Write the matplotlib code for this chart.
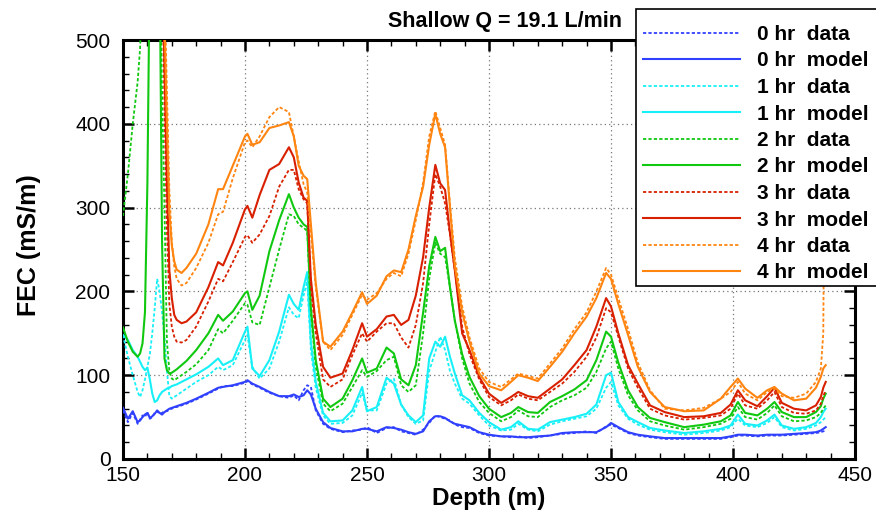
import matplotlib
matplotlib.use("Agg")
import matplotlib.pyplot as plt
from matplotlib.lines import Line2D
from matplotlib.patches import Rectangle
from matplotlib.ticker import MultipleLocator

plt.rcParams['font.family'] = ['Liberation Sans', 'DejaVu Sans']

# ---------------- data ----------------
depth = [
    150, 152, 154, 156, 157, 158, 159, 160, 161, 162,
    163, 164, 165, 166, 167, 168, 169, 170, 171, 172,
    174, 176, 180, 185, 189, 191, 195, 200, 201, 203,
    206, 210, 214, 218, 220, 222, 224, 225.5, 227, 229,
    232, 235, 240, 244, 248, 250, 254, 258, 261, 264,
    267, 270, 273, 275.5, 278, 280, 282, 284, 286, 289,
    292, 296, 300, 305, 309, 312, 316, 320, 325, 330,
    335, 340, 344, 348, 350, 353, 357, 361, 366, 372,
    380, 388, 395, 399, 402, 405, 410, 414, 417, 420,
    425, 430, 434, 436, 437, 438]

fec_0hr_data = [
    58, 44, 55, 42, 47, 52, 50, 56, 48, 50,
    55, 57, 54, 55, 57, 57, 59, 60, 62, 62,
    64, 66, 71, 78, 84, 87, 87, 91, 93, 89,
    85, 79, 75, 73, 76, 70, 82, 88, 86, 58,
    42, 36, 32, 34, 35, 38, 31, 37, 38, 33,
    31, 29, 35, 43, 52, 50, 48, 46, 41, 38,
    37, 31, 28, 27, 26, 27, 25, 26, 28, 30,
    31, 33, 31, 39, 41, 37, 31, 28, 26, 24,
    24, 24, 24, 26, 28, 28, 27, 28, 28, 28,
    29, 30, 31, 32, 33, 34]

fec_0hr_model = [
    61, 48, 57, 44, 46, 50, 53, 55, 49, 51,
    54, 58, 55, 53, 56, 58, 60, 61, 62, 63,
    65, 67, 72, 79, 85, 86, 88, 92, 94, 90,
    86, 80, 75, 75, 77, 74, 76, 82, 77, 60,
    44, 37, 33, 33, 36, 36, 33, 38, 37, 35,
    32, 30, 33, 45, 51, 51, 49, 45, 42, 40,
    38, 32, 29, 27, 27, 26, 26, 27, 28, 31,
    32, 32, 32, 38, 43, 38, 32, 29, 27, 25,
    25, 25, 25, 27, 29, 29, 28, 29, 29, 29,
    30, 31, 32, 34, 36, 38]

fec_1hr_data = [
    148, 122, 100, 80, 74, 82, 95, 110, 125, 150,
    180, 215, 200, 175, 145, 105, 75, 72, 74, 76,
    80, 84, 92, 100, 110, 106, 112, 142, 148, 110,
    96, 108, 140, 181, 172, 168, 195, 212, 130, 85,
    52, 42, 43, 52, 79, 58, 58, 90, 96, 65,
    50, 42, 46, 105, 128, 146, 130, 105, 90, 72,
    66, 52, 40, 34, 35, 42, 35, 33, 41, 45,
    48, 51, 60, 85, 92, 64, 48, 41, 35, 32,
    29, 31, 34, 38, 48, 40, 38, 43, 50, 38,
    34, 36, 40, 44, 47, 50]

fec_1hr_model = [
    148, 142, 130, 122, 116, 110, 106, 109, 95, 78,
    68, 70, 76, 80, 82, 84, 85, 87, 88, 89,
    92, 95, 101, 110, 120, 112, 118, 152, 158, 108,
    99, 118, 152, 196, 185, 178, 205, 223, 140, 92,
    55, 45, 46, 58, 86, 57, 62, 97, 90, 65,
    52, 44, 52, 120, 140, 134, 146, 122, 102, 76,
    70, 55, 44, 35, 38, 45, 36, 35, 44, 47,
    50, 54, 65, 100, 103, 68, 50, 44, 37, 34,
    31, 33, 36, 40, 53, 42, 40, 46, 53, 40,
    36, 38, 43, 50, 56, 60]

fec_2hr_data = [
    290, 340, 400, 450, 490, 560, 600, 600, 600, 600,
    600, 600, 600, 440, 300, 140, 105, 96, 94, 96,
    100, 104, 113, 130, 155, 150, 165, 186, 184, 163,
    160, 205, 250, 292, 290, 280, 276, 272, 175, 110,
    66, 57, 66, 86, 106, 98, 105, 118, 122, 88,
    80, 88, 150, 215, 258, 245, 241, 205, 165, 120,
    90, 68, 55, 45, 50, 58, 51, 50, 62, 70,
    76, 85, 104, 132, 140, 108, 76, 58, 45, 40,
    35, 38, 42, 48, 62, 50, 47, 55, 64, 51,
    45, 46, 50, 55, 60, 64]

fec_2hr_model = [
    157, 140, 128, 122, 126, 138, 175, 330, 600, 600,
    600, 600, 600, 260, 120, 106, 102, 103, 105, 107,
    112, 117, 130, 150, 172, 165, 176, 198, 200, 178,
    195, 248, 285, 316, 300, 288, 280, 277, 180, 118,
    72, 62, 72, 94, 120, 103, 108, 133, 126, 95,
    88, 112, 175, 230, 265, 248, 252, 205, 165, 125,
    98, 75, 60, 50, 55, 62, 56, 55, 68, 75,
    83, 94, 118, 152, 146, 115, 82, 62, 49, 44,
    38, 41, 45, 52, 68, 55, 52, 60, 68, 56,
    50, 50, 56, 63, 72, 78]

fec_3hr_data = [
    600, 600, 600, 600, 600, 600, 600, 600, 600, 600,
    600, 600, 600, 600, 420, 275, 185, 158, 146, 140,
    139, 142, 158, 188, 215, 212, 235, 265, 267, 258,
    268, 290, 325, 345, 345, 322, 310, 305, 205, 150,
    95, 86, 95, 124, 150, 140, 152, 162, 162, 145,
    133, 160, 210, 280, 340, 325, 305, 268, 225, 158,
    125, 95, 74, 64, 70, 77, 72, 70, 80, 90,
    104, 122, 145, 180, 175, 146, 108, 85, 60, 52,
    47, 49, 52, 60, 78, 64, 60, 70, 80, 62,
    55, 54, 58, 66, 75, 82]

fec_3hr_model = [
    600, 600, 600, 600, 600, 600, 600, 600, 600, 600,
    600, 600, 600, 600, 470, 330, 225, 192, 172, 166,
    162, 164, 175, 205, 235, 231, 258, 298, 302, 288,
    315, 345, 352, 372, 360, 330, 312, 308, 215, 160,
    110, 97, 102, 130, 162, 146, 155, 170, 172, 160,
    166, 195, 241, 300, 351, 329, 321, 270, 225, 150,
    130, 98, 78, 67, 74, 80, 75, 73, 84, 95,
    112, 130, 158, 192, 182, 150, 112, 90, 64, 56,
    50, 51, 55, 65, 82, 70, 63, 75, 85, 67,
    60, 58, 64, 74, 85, 92]

fec_4hr_data = [
    600, 600, 600, 600, 600, 600, 600, 600, 600, 600,
    600, 600, 600, 600, 560, 440, 320, 260, 230, 215,
    207, 210, 228, 258, 292, 295, 335, 378, 380, 372,
    385, 408, 420, 414, 385, 355, 328, 318, 270, 205,
    140, 130, 148, 172, 196, 190, 198, 215, 222, 218,
    245, 285, 330, 385, 415, 395, 375, 305, 240, 182,
    145, 108, 92, 86, 95, 102, 99, 96, 114, 132,
    155, 175, 200, 228, 220, 192, 155, 115, 82, 60,
    58, 61, 72, 80, 92, 78, 70, 80, 84, 75,
    73, 78, 92, 108, 150, 600]

fec_4hr_model = [
    600, 600, 600, 600, 600, 600, 600, 600, 600, 600,
    600, 600, 600, 600, 520, 400, 295, 255, 236, 226,
    222, 228, 245, 280, 322, 322, 350, 385, 388, 375,
    378, 395, 398, 402, 385, 350, 338, 334, 280, 210,
    140, 134, 152, 175, 199, 185, 195, 218, 225, 223,
    250, 290, 325, 375, 412, 388, 372, 300, 230, 175,
    140, 102, 87, 82, 92, 100, 97, 93, 110, 128,
    150, 170, 192, 222, 215, 185, 148, 110, 80, 62,
    57, 58, 72, 86, 96, 84, 73, 82, 86, 78,
    70, 72, 85, 98, 108, 112]

labels = ["0 hr  data", "0 hr  model", "1 hr  data", "1 hr  model",
          "2 hr  data", "2 hr  model", "3 hr  data", "3 hr  model",
          "4 hr  data", "4 hr  model"]
series_values = [fec_0hr_data, fec_0hr_model, fec_1hr_data, fec_1hr_model,
                 fec_2hr_data, fec_2hr_model, fec_3hr_data, fec_3hr_model,
                 fec_4hr_data, fec_4hr_model]
hour_colors = ['#3040ff', '#18f0f8', '#10c810', '#d82000', '#ff8410']

# ---------------- figure ----------------
W, H = 876, 512
fig = plt.figure(figsize=(W / 100, H / 100), dpi=100)
ax = fig.add_axes([123 / W, 1 - 459 / H, 732 / W, 419 / H])

DOT = (0, (1.8, 1.2))
handles = []
for i, (lab, vals) in enumerate(zip(labels, series_values)):
    col = hour_colors[i // 2]
    is_data = (i % 2 == 0)
    ls = DOT if is_data else '-'
    lw = 1.3 if is_data else 1.5
    ax.plot(depth, vals, color=col, lw=lw, linestyle=ls, zorder=3 + i * 0.1)
    handles.append(Line2D([], [], color=col, lw=lw, linestyle=ls))

ax.set_xlim(150, 450)
ax.set_ylim(0, 500)
ax.xaxis.set_major_locator(MultipleLocator(50))
ax.xaxis.set_minor_locator(MultipleLocator(10))
ax.yaxis.set_major_locator(MultipleLocator(100))
ax.yaxis.set_minor_locator(MultipleLocator(20))
ax.tick_params(which='both', direction='in', top=True, right=True,
               labelsize=15, colors='black')
ax.tick_params(which='major', length=8, width=1.8)
ax.tick_params(which='minor', length=4.5, width=1.0)
ax.tick_params(axis='x', pad=5)
ax.tick_params(axis='y', pad=9)
for s in ax.spines.values():
    s.set_linewidth(2.2)
ax.grid(which='major', color='#777777', linestyle=(0, (1, 2.5)), lw=0.9)
ax.set_axisbelow(True)

fig.text(505 / W, 1 - 22 / H, "Shallow Q = 19.1 L/min", ha='center', va='center',
         fontsize=15.5, fontweight='bold')
fig.text(29 / W, 1 - 245 / H, "FEC (mS/m)", rotation=90, ha='center', va='center',
         fontsize=18, fontweight='bold')
fig.text(489 / W, 1 - 499 / H, "Depth (m)", ha='center', va='center',
         fontsize=17.5, fontweight='bold')

# legend box
rect = Rectangle((636 / W, 1 - 286 / H), (900 - 636) / W, (286 - 9) / H,
                 transform=fig.transFigure, facecolor='white', edgecolor='black',
                 lw=1.2, zorder=4)
fig.add_artist(rect)
fig.legend(handles, labels, loc='upper left', bbox_to_anchor=(643 / W, 1 - 25 / H),
           frameon=False, prop={'weight': 'bold', 'size': 15},
           handlelength=4.66, handletextpad=0.8, labelspacing=0.36,
           borderpad=0, borderaxespad=0)

fig.savefig("out.png", dpi=100)
